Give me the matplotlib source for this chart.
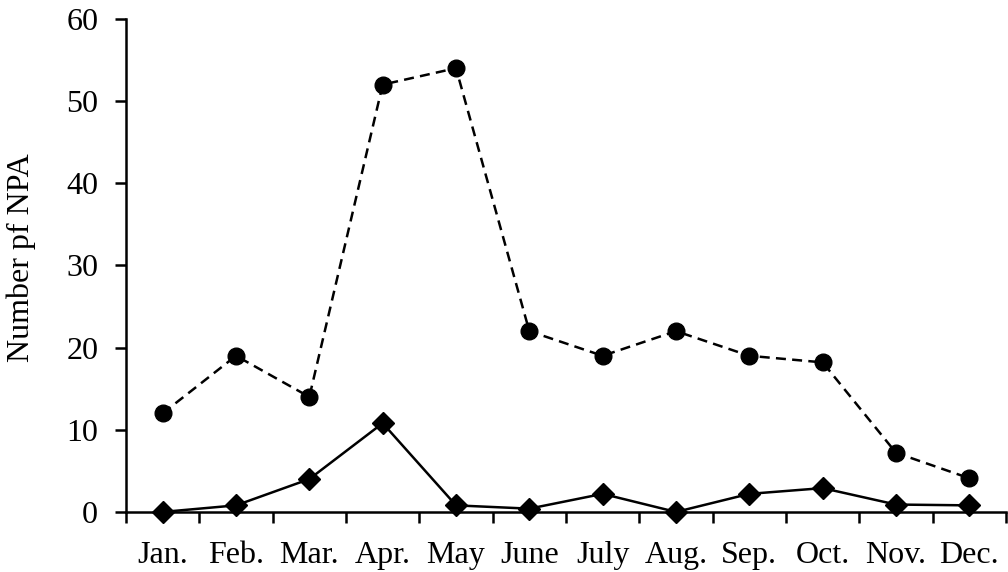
import numpy as np
import matplotlib.pyplot as plt
from matplotlib.ticker import MultipleLocator, FixedLocator

# --- datos ---
meses = ['Jan.', 'Feb.', 'Mar.', 'Apr.', 'May', 'June', 'July',
         'Aug.', 'Sep.', 'Oct.', 'Nov.', 'Dec.']
serie_circulos = [12, 19, 14, 52, 54, 22, 19, 22, 19, 18.2, 7.2, 4.1]
serie_rombos = [0, 0.8, 4, 10.8, 0.8, 0.4, 2.2, 0, 2.2, 2.9, 0.9, 0.8]

plt.rcParams['font.family'] = ['Liberation Serif', 'DejaVu Serif']

fig = plt.figure(figsize=(10.08, 5.72), dpi=100)
ax = fig.add_axes([0.125, 0.105, 0.873, 0.862])

x = np.arange(len(meses))
ax.plot(x, serie_circulos, '--', color='black', linewidth=1.8, dashes=(4, 2.5),
        marker='o', markersize=12, clip_on=False, zorder=3)
ax.plot(x, serie_rombos, '-', color='black', linewidth=1.8,
        marker='D', markersize=11, clip_on=False, zorder=3)

ax.set_xlim(-0.5, len(meses) - 0.5)
ax.set_ylim(0, 60)
ax.yaxis.set_major_locator(MultipleLocator(10))

# etiquetas en el centro, marcas en los límites de cada mes
ax.set_xticks(x)
ax.set_xticklabels(meses)
ax.xaxis.set_minor_locator(FixedLocator(np.arange(-0.5, len(meses), 1.0)))
ax.tick_params(axis='x', which='major', length=0, pad=21, labelsize=23)
ax.tick_params(axis='x', which='minor', length=8, width=1.8, direction='out')
ax.tick_params(axis='y', which='major', length=8, width=1.8, direction='out',
               labelsize=23, pad=12)

for lado in ['top', 'right']:
    ax.spines[lado].set_visible(False)
for lado in ['left', 'bottom']:
    ax.spines[lado].set_linewidth(1.8)

ax.set_ylabel('Number pf NPA', fontsize=23)
ax.yaxis.set_label_coords(-0.102, 0.515)

fig.savefig('out.png', dpi=100)
